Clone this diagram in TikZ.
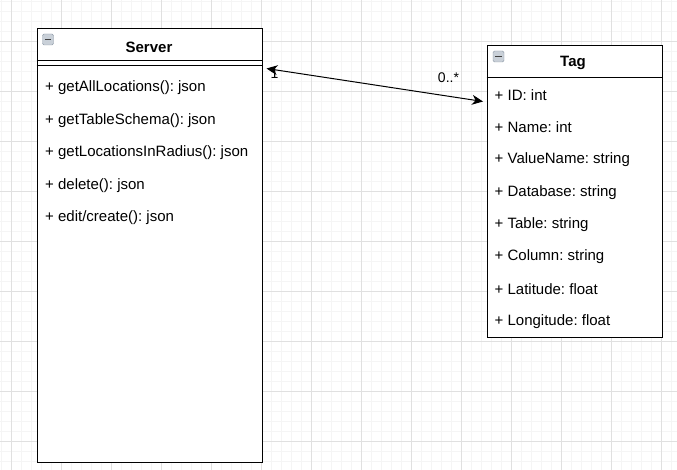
\documentclass[tikz,border=0pt]{standalone}
\usepackage{fontspec}
\setmainfont{Liberation Sans}
\usepackage{xcolor}
\usetikzlibrary{arrows.meta}
\frenchspacing
\definecolor{gridminor}{HTML}{F5F5F5}
\definecolor{gridmajor}{HTML}{E0E0E0}
\definecolor{iconfill}{HTML}{C9D0D8}
\definecolor{iconline}{HTML}{8C98A6}

\begin{document}
\begin{tikzpicture}[x=1pt,y=-1pt,
    box/.style={draw, line width=1pt, fill=white, anchor=north west, inner sep=0pt},
    title/.style={font=\bfseries\fontsize{15}{18}\selectfont},
    item/.style={anchor=west, inner sep=0pt, font=\fontsize{15}{18}\selectfont},
    mult/.style={inner sep=0pt, font=\fontsize{14}{16}\selectfont},
    icon/.style={draw=iconline, fill=iconfill, rounded corners=1.5pt, minimum size=11pt, inner sep=0pt},
    assoc/.style={{Stealth[length=11pt,width=10pt,inset=3.5pt]}-{Stealth[length=11pt,width=10pt,inset=3.5pt]}, line width=1pt}]
  \useasboundingbox (0,0) rectangle (677,470);
  \fill[white] (0,0) rectangle (677,470);

  % grid
  \foreach \x in {1.5,11.5,...,671.5} \draw[gridminor, line width=1pt] (\x,0) -- (\x,470);
  \foreach \y in {1.5,11.5,...,461.5} \draw[gridminor, line width=1pt] (0,\y) -- (677,\y);
  \foreach \x in {11.5,61.5,...,661.5} \draw[gridmajor, line width=1pt] (\x,0) -- (\x,470);
  \foreach \y in {41.5,91.5,...,441.5} \draw[gridmajor, line width=1pt] (0,\y) -- (677,\y);

  % Server
  \node[box, minimum width=225pt, minimum height=433.5pt] (server) at (36.5,28.5) {};
  \draw[line width=1pt] ([yshift=-32.5pt]server.north west) -- ([yshift=-32.5pt]server.north east);
  \draw[line width=1pt] ([yshift=-37.5pt]server.north west) -- ([yshift=-37.5pt]server.north east);
  \node[icon] (servericon) at (48,39.5) {};
  \draw[line width=1.5pt, black!75] ([xshift=2.5pt]servericon.west) -- ([xshift=-2.5pt]servericon.east);
  \node[title] (servertitle) at (149,47) {Server};
  \foreach \t [count=\i] in {getAllLocations(): json, getTableSchema(): json,
      getLocationsInRadius(): json, delete(): json, edit/create(): json}
    \node[item] (serverop\i) at (45,{55.5+32.5*\i}) {+ \t};

  % Tag
  \node[box, minimum width=175.5pt, minimum height=292pt] (tag) at (486.5,45) {};
  \draw[line width=1pt] ([yshift=-33pt]tag.north west) -- ([yshift=-33pt]tag.north east);
  \node[icon] (tagicon) at (498.5,56.5) {};
  \draw[line width=1.5pt, black!75] ([xshift=2.5pt]tagicon.west) -- ([xshift=-2.5pt]tagicon.east);
  \node[title] (tagtitle) at (573,63) {Tag};
  \foreach \t [count=\i] in {ID: int, Name: int, ValueName: string, Database: string,
      Table: string, Column: string, Latitude: float, Longitude: float}
    \node[item] (tagattr\i) at (494.5,{62.6+32.4*\i}) {+ \t};

  % association
  \node[mult] (servermult) at (274.5,74) {1};
  \node[mult] (tagmult) at (448.5,77.5) {0..*};
  \draw[assoc] ([shift={(4,40)}]server.north east) -- ([shift={(-3.5,56.5)}]tag.north west);
\end{tikzpicture}
\end{document}
